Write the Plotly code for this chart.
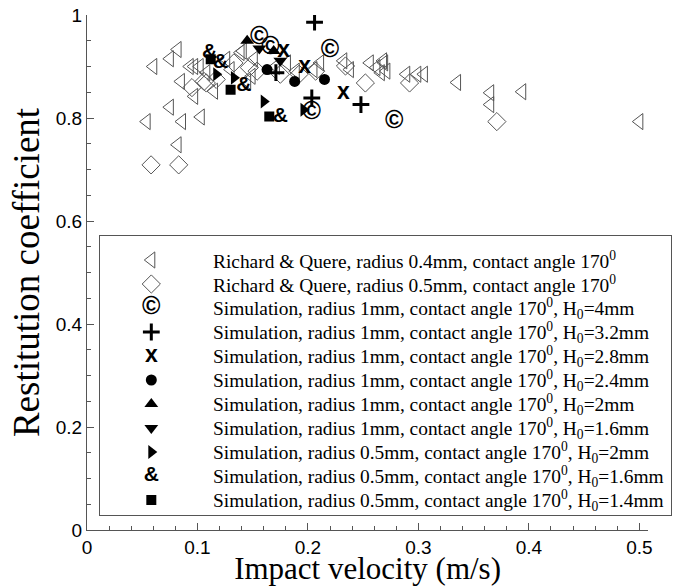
import plotly.graph_objects as go

# ---------------- data ----------------
rq04_x = [0.054,0.060,0.075,0.082,0.075,0.082,0.085,0.086,0.093,0.097,0.102,0.097,0.103,0.108,0.115,0.126,0.130,0.139,0.141,0.145,0.149,0.151,0.171,0.181,0.189,0.205,0.211,0.232,0.238,0.256,0.262,0.266,0.268,0.269,0.271,0.289,0.299,0.305,0.335,0.365,0.365,0.394,0.500]
rq04_y = [0.793,0.900,0.915,0.933,0.821,0.748,0.871,0.793,0.900,0.900,0.900,0.842,0.802,0.888,0.852,0.914,0.894,0.927,0.930,0.871,0.881,0.914,0.900,0.907,0.891,0.894,0.907,0.911,0.894,0.907,0.898,0.888,0.911,0.907,0.891,0.885,0.885,0.885,0.869,0.849,0.826,0.851,0.793]

rq05_x = [0.058,0.083,0.095,0.106,0.108,0.117,0.133,0.147,0.154,0.175,0.192,0.207,0.234,0.252,0.292,0.371]
rq05_y = [0.709,0.709,0.859,0.871,0.868,0.875,0.907,0.898,0.891,0.885,0.885,0.891,0.901,0.868,0.868,0.793]

s1_h40_x = [0.156,0.166,0.220,0.2035,0.278]
s1_h40_y = [0.956,0.937,0.930,0.810,0.793]
s1_h32_x = [0.206,0.171,0.2035,0.248]
s1_h32_y = [0.986,0.888,0.839,0.826]
s1_h28_x = [0.178,0.197,0.232]
s1_h28_y = [0.930,0.898,0.849]
s1_h24_x = [0.163,0.188,0.215]
s1_h24_y = [0.894,0.871,0.875]
s1_h20_x = [0.145,0.169]
s1_h20_y = [0.950,0.930]
s1_h16_x = [0.156,0.175]
s1_h16_y = [0.935,0.911]
s05_h20_x = [0.117,0.133,0.160,0.196]
s05_h20_y = [0.885,0.878,0.832,0.816]
s05_h16_x = [0.111,0.121,0.142,0.175]
s05_h16_y = [0.927,0.907,0.862,0.803]
s05_h14_x = [0.112,0.130,0.165]
s05_h14_y = [0.914,0.855,0.803]

x_ticks = [0, 0.1, 0.2, 0.3, 0.4, 0.5]
x_tick_labels = ["0", "0.1", "0.2", "0.3", "0.4", "0.5"]
y_ticks = [0, 0.2, 0.4, 0.6, 0.8, 1]
y_tick_labels = ["0", "0.2", "0.4", "0.6", "0.8", "1"]

A = "contact angle 170<sup>0</sup>"
legend_labels = [
    "Richard & Quere, radius 0.4mm, " + A,
    "Richard & Quere, radius 0.5mm, " + A,
    "Simulation, radius 1mm, " + A + ", H<sub>0</sub>=4mm",
    "Simulation, radius 1mm, " + A + ", H<sub>0</sub>=3.2mm",
    "Simulation, radius 1mm, " + A + ", H<sub>0</sub>=2.8mm",
    "Simulation, radius 1mm, " + A + ", H<sub>0</sub>=2.4mm",
    "Simulation, radius 1mm, " + A + ", H<sub>0</sub>=2mm",
    "Simulation, radius 1mm, " + A + ", H<sub>0</sub>=1.6mm",
    "Simulation, radius 0.5mm, " + A + ", H<sub>0</sub>=2mm",
    "Simulation, radius 0.5mm, " + A + ", H<sub>0</sub>=1.6mm",
    "Simulation, radius 0.5mm, " + A + ", H<sub>0</sub>=1.4mm",
]

GRAY = "#555555"
SANS = "Liberation Sans, Arial, sans-serif"
SERIF = "Liberation Serif, Times New Roman, serif"

# style per series: (kind, spec, text size)
styles = [
    ("marker", dict(symbol="triangle-left-open", size=14, color=GRAY, line=dict(width=1, color=GRAY)), None),
    ("marker", dict(symbol="diamond-open", size=14, color=GRAY, line=dict(width=1, color=GRAY)), None),
    ("text", "©", 25),
    ("marker", dict(symbol="cross-thin", size=12, color="black", line=dict(width=3, color="black")), None),
    ("text", "x", 23),
    ("marker", dict(symbol="circle", size=11, color="black", line=dict(width=0)), None),
    ("marker", dict(symbol="triangle-up", size=12, color="black", line=dict(width=0)), None),
    ("marker", dict(symbol="triangle-down", size=12, color="black", line=dict(width=0)), None),
    ("marker", dict(symbol="triangle-right", size=12, color="black", line=dict(width=0)), None),
    ("text", "&", 21),
    ("marker", dict(symbol="square", size=10, color="black", line=dict(width=0)), None),
]
series = [
    (rq04_x, rq04_y), (rq05_x, rq05_y), (s1_h40_x, s1_h40_y), (s1_h32_x, s1_h32_y),
    (s1_h28_x, s1_h28_y), (s1_h24_x, s1_h24_y), (s1_h20_x, s1_h20_y), (s1_h16_x, s1_h16_y),
    (s05_h20_x, s05_h20_y), (s05_h16_x, s05_h16_y), (s05_h14_x, s05_h14_y),
]

fig = go.Figure()

def add_series(xs, ys, style, xaxis="x", yaxis="y"):
    kind, spec, tsize = style
    if kind == "marker":
        fig.add_trace(go.Scatter(x=xs, y=ys, mode="markers", marker=spec,
                                 xaxis=xaxis, yaxis=yaxis, showlegend=False, hoverinfo="skip"))
    else:
        fig.add_trace(go.Scatter(x=xs, y=ys, mode="text", text=[spec] * len(xs),
                                 textposition="middle center",
                                 textfont=dict(family=SANS, size=tsize, color="black", weight="bold"),
                                 xaxis=xaxis, yaxis=yaxis, showlegend=False, hoverinfo="skip"))

for (xs, ys), st in zip(series, styles):
    add_series(xs, ys, st)

# ---------------- legend (drawn on an auxiliary axis pair) ----------------
n = len(legend_labels)
rows = [n - 1 - i + 0.5 for i in range(n)]
for i, st in enumerate(styles):
    add_series([0.09], [rows[i]], st, xaxis="x2", yaxis="y2")
for i, lab in enumerate(legend_labels):
    fig.add_annotation(x=0.195, y=rows[i], xref="x2", yref="y2", text=lab, showarrow=False,
                       xanchor="left", yanchor="middle",
                       font=dict(family=SERIF, size=19.4, color="black"))

# layout geometry (pixels)
W, H = 677, 586
ml, mr, mt, mb = 87, 1, 15, 56
pw = W - ml - mr
ph = H - mt - mb
plot_right = 652
leg_l, leg_r, leg_t, leg_b = 100, 675, 236, 515

fig.update_layout(
    width=W, height=H,
    margin=dict(l=ml, r=mr, t=mt, b=mb),
    paper_bgcolor="white", plot_bgcolor="rgba(0,0,0,0)",
    showlegend=False,
    xaxis=dict(domain=[0, (plot_right - ml) / pw], range=[0, 0.508],
               tickvals=x_ticks, ticktext=x_tick_labels,
               ticks="inside", ticklen=7, tickwidth=1, tickcolor=GRAY,
               minor=dict(dtick=0.02, tick0=0, ticks="inside", ticklen=4, tickcolor=GRAY),
               showline=True, linecolor=GRAY, linewidth=1, showgrid=False, zeroline=False,
               tickfont=dict(family=SANS, size=19, color="black"),
               title=dict(text="Impact velocity (m/s)", font=dict(family=SERIF, size=31, color="black"), standoff=4)),
    yaxis=dict(domain=[0, 1], range=[0, 1],
               tickvals=y_ticks, ticktext=y_tick_labels,
               ticks="inside", ticklen=7, tickwidth=1, tickcolor=GRAY,
               minor=dict(dtick=0.05, tick0=0, ticks="inside", ticklen=4, tickcolor=GRAY),
               showline=True, linecolor=GRAY, linewidth=1, showgrid=False, zeroline=False,
               tickfont=dict(family=SANS, size=19, color="black"),
               title=dict(text="Restitution coefficient", font=dict(family=SERIF, size=37, color="black"), standoff=4)),
    xaxis2=dict(domain=[(leg_l - ml) / pw, (leg_r - ml) / pw], range=[0, 1], anchor="y2",
                showline=True, mirror=True, linecolor=GRAY, linewidth=1,
                showticklabels=False, ticks="", showgrid=False, zeroline=False),
    yaxis2=dict(domain=[(H - mb - leg_b) / ph, (H - mb - leg_t) / ph], range=[-0.125, n + 0.5], anchor="x2",
                showline=True, mirror=True, linecolor=GRAY, linewidth=1,
                showticklabels=False, ticks="", showgrid=False, zeroline=False),
)

fig.write_html("out.html")
